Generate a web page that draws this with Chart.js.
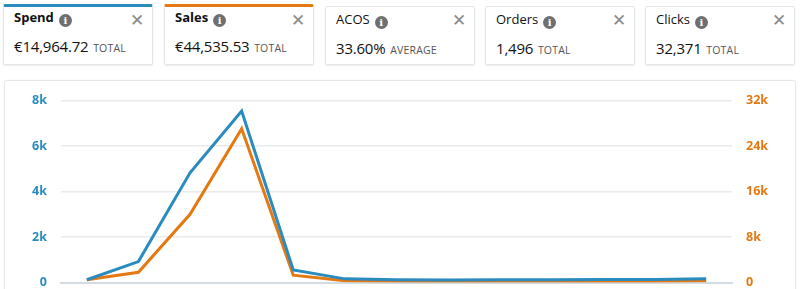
<!DOCTYPE html>
<html>
<head>
<meta charset="utf-8">
<script src="https://cdn.jsdelivr.net/npm/chart.js@4.4.0/dist/chart.umd.min.js"></script>
<style>
  body { margin: 0; width: 800px; height: 289px; overflow: hidden; background: #fff; font-family: "Open Sans", "Noto Sans", sans-serif; color: #111; }
  .card { position: absolute; width: 150px; background: #fff; border: 1px solid #e3e6e6; border-radius: 2px; box-shadow: 0 1px 2px rgba(0,0,0,0.08); box-sizing: border-box; }
  .card.sel { top: 4px; height: 61px; border-top-width: 3px; }
  .card.off { top: 6px; height: 59px; }
  .card .t { position: absolute; left: 10px; top: 3px; font-size: 13px; }
  .card.sel .t { top: 1px; font-weight: 700; }
  .card .i { display: inline-block; width: 13px; height: 13px; border-radius: 50%; background: #6f6f6f; color: #fff; font-size: 10px; font-weight: 700; text-align: center; line-height: 13px; vertical-align: -2px; margin-left: 5px; font-family: "DejaVu Serif", serif; }
  .card .x { position: absolute; right: 8px; top: 1px; font-size: 17px; color: #8a8a8a; }
  .card .v { position: absolute; left: 10px; top: 31px; font-size: 15px; white-space: nowrap; letter-spacing: -0.2px; }
  .card.sel .v { top: 29px; }
  .card .v span { font-size: 10.5px; color: #555; margin-left: 1px; letter-spacing: 0.2px; }
  #box { position: absolute; left: 4px; top: 80px; width: 792px; height: 240px; border: 1px solid #e7e7e7; border-radius: 3px; box-sizing: border-box; box-shadow: 0 0 2px rgba(0,0,0,0.05); }
  #wrap { position: absolute; left: 4px; top: 79px; width: 792px; height: 225px; }
</style>
</head>
<body>
<div class="card sel" style="left:3px; border-top-color:#2a8bbf">
  <div class="t">Spend<span class="i">i</span></div><div class="x">✕</div>
  <div class="v">€14,964.72 <span>TOTAL</span></div>
</div>
<div class="card sel" style="left:164px; border-top-color:#e47911">
  <div class="t">Sales<span class="i">i</span></div><div class="x">✕</div>
  <div class="v">€44,535.53 <span>TOTAL</span></div>
</div>
<div class="card off" style="left:325px">
  <div class="t">ACOS<span class="i">i</span></div><div class="x">✕</div>
  <div class="v">33.60% <span>AVERAGE</span></div>
</div>
<div class="card off" style="left:485px">
  <div class="t">Orders<span class="i">i</span></div><div class="x">✕</div>
  <div class="v">1,496 <span>TOTAL</span></div>
</div>
<div class="card off" style="left:645px">
  <div class="t">Clicks<span class="i">i</span></div><div class="x">✕</div>
  <div class="v">32,371 <span>TOTAL</span></div>
</div>
<div id="box"></div>
<div id="wrap"><canvas id="myChart"></canvas></div>
<script>
// data
const periods = ['1', '2', '3', '4', '5', '6', '7', '8', '9', '10', '11', '12', '13'];
const spend = [120, 920, 4820, 7540, 550, 160, 120, 110, 120, 120, 130, 130, 170];
const sales = [470, 1800, 12000, 27050, 1280, 300, 200, 200, 220, 220, 230, 240, 320];
const spendTicks = [0, 2000, 4000, 6000, 8000];
const salesTicks = [0, 8000, 16000, 24000, 32000];

const blue = '#2a8bbf';
const orange = '#e47911';

function kLabel(v) {
  return v === 0 ? '0' : (v / 1000) + 'k';
}

let ctx = document.getElementById('myChart').getContext('2d');

let chart = new Chart(ctx, {
  type: 'line',
  data: {
    labels: periods,
    datasets: [
      { label: 'Spend', data: spend, yAxisID: 'y', borderColor: blue, borderWidth: 3, pointRadius: 0, tension: 0 },
      { label: 'Sales', data: sales, yAxisID: 'y1', borderColor: orange, borderWidth: 3, pointRadius: 0, tension: 0 }
    ]
  },
  options: {
    responsive: true,
    maintainAspectRatio: false,
    animation: false,
    layout: { padding: { top: 14, bottom: 7, left: 0, right: 0 } },
    plugins: { legend: { display: false }, tooltip: { enabled: false } },
    scales: {
      x: {
        offset: true,
        afterFit: (axis) => { axis.height = 0; },
        ticks: { display: false },
        grid: { display: false, drawTicks: false },
        border: { display: true, color: '#d3dbe3', width: 2 }
      },
      y: {
        position: 'left',
        min: 0, max: 8000,
        afterBuildTicks: (axis) => { axis.ticks = spendTicks.map(v => ({ value: v })); },
        afterFit: (axis) => { axis.width = 57; },
        ticks: { color: blue, padding: 14, font: { family: 'Open Sans', size: 12.5, weight: 'bold' }, callback: kLabel },
        grid: { color: (c) => c.tick.value === 0 ? 'rgba(0,0,0,0)' : '#e8eaed', drawTicks: false, lineWidth: 1.5 },
        border: { display: false }
      },
      y1: {
        position: 'right',
        min: 0, max: 32000,
        afterBuildTicks: (axis) => { axis.ticks = salesTicks.map(v => ({ value: v })); },
        afterFit: (axis) => { axis.width = 64; },
        ticks: { color: orange, padding: 14, font: { family: 'Open Sans', size: 12.5, weight: 'bold' }, callback: kLabel },
        grid: { display: false, drawTicks: false },
        border: { display: false }
      }
    }
  }
});
</script>
</body>
</html>
